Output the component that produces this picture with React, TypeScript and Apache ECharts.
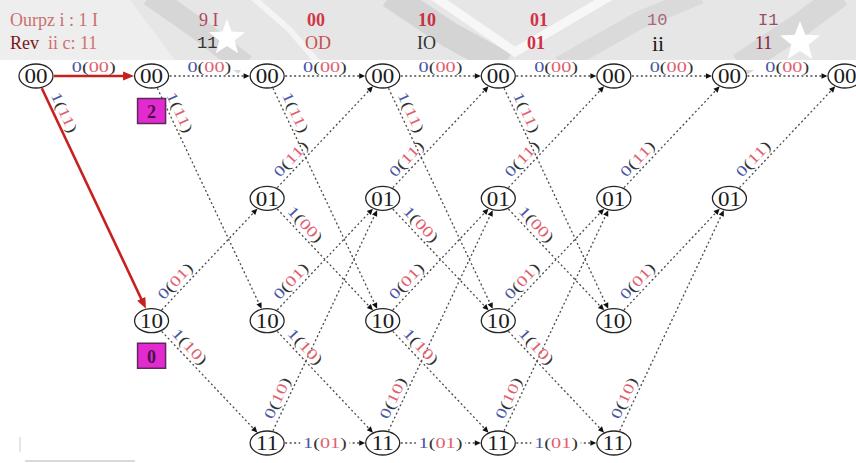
import React, { useEffect, useRef } from "react";
import * as echarts from "echarts";

// ---------------- data ----------------
const stateNames = ["00", "01", "10", "11"];

// trellis nodes: [stage, state index]
const nodes: [number, number][] = [
  [0, 0],
  [1, 0], [1, 2],
  [2, 0], [2, 1], [2, 2], [2, 3],
  [3, 0], [3, 1], [3, 2], [3, 3],
  [4, 0], [4, 1], [4, 2], [4, 3],
  [5, 0], [5, 1], [5, 2], [5, 3],
  [6, 0], [6, 1],
  [7, 0],
];

// branches: [from stage, from state, to stage, to state, input bit, output bits, on highlighted path]
const branches: [number, number, number, number, string, string, number][] = [
  [0, 0, 1, 0, "0", "00", 1],
  [0, 0, 1, 2, "1", "11", 1],
  [1, 0, 2, 0, "0", "00", 0],
  [2, 0, 3, 0, "0", "00", 0],
  [3, 0, 4, 0, "0", "00", 0],
  [4, 0, 5, 0, "0", "00", 0],
  [5, 0, 6, 0, "0", "00", 0],
  [6, 0, 7, 0, "0", "00", 0],
  [1, 0, 2, 2, "1", "11", 0],
  [2, 0, 3, 2, "1", "11", 0],
  [3, 0, 4, 2, "1", "11", 0],
  [4, 0, 5, 2, "1", "11", 0],
  [1, 2, 2, 1, "0", "01", 0],
  [2, 2, 3, 1, "0", "01", 0],
  [3, 2, 4, 1, "0", "01", 0],
  [4, 2, 5, 1, "0", "01", 0],
  [5, 2, 6, 1, "0", "01", 0],
  [1, 2, 2, 3, "1", "10", 0],
  [2, 2, 3, 3, "1", "10", 0],
  [3, 2, 4, 3, "1", "10", 0],
  [4, 2, 5, 3, "1", "10", 0],
  [2, 1, 3, 0, "0", "11", 0],
  [3, 1, 4, 0, "0", "11", 0],
  [4, 1, 5, 0, "0", "11", 0],
  [5, 1, 6, 0, "0", "11", 0],
  [6, 1, 7, 0, "0", "11", 0],
  [2, 1, 3, 2, "1", "00", 0],
  [3, 1, 4, 2, "1", "00", 0],
  [4, 1, 5, 2, "1", "00", 0],
  [2, 3, 3, 1, "0", "10", 0],
  [3, 3, 4, 1, "0", "10", 0],
  [4, 3, 5, 1, "0", "10", 0],
  [5, 3, 6, 1, "0", "10", 0],
  [2, 3, 3, 3, "1", "01", 0],
  [3, 3, 4, 3, "1", "01", 0],
  [4, 3, 5, 3, "1", "01", 0],
];

// path metric boxes: [stage, state, metric]
const metricBoxes: [number, number, string][] = [
  [1, 0, "2"],
  [1, 2, "0"],
];

const outputRow = ["Ourpz i : 1 I", "9 I", "00", "10", "01", "10", "I1"];
const receivedLead = ["Rev", "ii c: 11"];
const receivedRow = ["11", "OD", "IO", "01", "ii", "11"];

// ---------------- styling / layout ----------------
const SERIF = "'Liberation Serif', 'DejaVu Serif', serif";
const MONO = "'Liberation Mono', 'DejaVu Sans Mono', monospace";
const NODE_RX = 17;
const NODE_RY = 12;

const outputStyles = [
  { x: 10, fill: "#c87070", fontFamily: SERIF, fontSize: 18, fontWeight: "normal" },
  { x: 199, fill: "#b04858", fontFamily: SERIF, fontSize: 18, fontWeight: "normal" },
  { x: 307, fill: "#d03848", fontFamily: SERIF, fontSize: 18, fontWeight: "bold" },
  { x: 418, fill: "#c83040", fontFamily: SERIF, fontSize: 18, fontWeight: "bold" },
  { x: 530, fill: "#d03048", fontFamily: SERIF, fontSize: 18, fontWeight: "bold" },
  { x: 647, fill: "#a86878", fontFamily: MONO, fontSize: 17, fontWeight: "normal" },
  { x: 758, fill: "#985060", fontFamily: MONO, fontSize: 17, fontWeight: "normal" },
];
const receivedStyles = [
  { x: 197, fill: "#333333", fontFamily: MONO, fontSize: 17, fontWeight: "normal" },
  { x: 305, fill: "#c85050", fontFamily: SERIF, fontSize: 18, fontWeight: "normal" },
  { x: 417, fill: "#333333", fontFamily: SERIF, fontSize: 18, fontWeight: "normal" },
  { x: 527, fill: "#d03048", fontFamily: SERIF, fontSize: 18, fontWeight: "bold" },
  { x: 652, fill: "#1a1a1a", fontFamily: SERIF, fontSize: 22, fontWeight: "normal" },
  { x: 755, fill: "#8b2035", fontFamily: SERIF, fontSize: 18, fontWeight: "normal" },
];

function starPoints(cx: number, cy: number, R: number, r: number) {
  const pts: number[][] = [];
  for (let i = 0; i < 10; i++) {
    const a = -Math.PI / 2 + (i * Math.PI) / 5;
    const rad = i % 2 === 0 ? R : r;
    pts.push([cx + rad * Math.cos(a), cy + rad * Math.sin(a)]);
  }
  return pts;
}

function boundaryDist(ux: number, uy: number) {
  return 1 / Math.sqrt((ux / NODE_RX) ** 2 + (uy / NODE_RY) ** 2);
}

const labelRich = {
  b: { fill: "#4a56a6", fontSize: 15, fontFamily: SERIF },
  p: { fill: "#333333", fontSize: 15, fontFamily: SERIF },
  r: { fill: "#e06070", fontSize: 15, fontFamily: SERIF },
};

export default function App() {
  const ref = useRef<HTMLDivElement>(null);

  useEffect(() => {
    if (!ref.current) return;
    const chart = echarts.init(ref.current, undefined, { renderer: "svg" });

    const headerGraphics: any[] = [
      { type: "rect", shape: { x: 0, y: 0, width: 856, height: 60 }, style: { fill: "#e6e6e6" }, z: 0 },
      { type: "polygon", shape: { points: [[0, 0], [130, 0], [175, 60], [0, 60]] }, style: { fill: "#eeeeee" }, z: 0 },
      { type: "polyline", shape: { points: [[150, -5], [200, 30], [245, 65]] }, style: { stroke: "#d6d6d6", lineWidth: 22, fill: null }, z: 0 },
      { type: "polyline", shape: { points: [[250, -5], [290, 30], [320, 65]] }, style: { stroke: "#f4f4f4", lineWidth: 6, fill: null }, z: 0 },
      { type: "polyline", shape: { points: [[390, -5], [450, 35], [505, 65]] }, style: { stroke: "#d4d4d4", lineWidth: 26, fill: null }, z: 0 },
      { type: "polyline", shape: { points: [[432, -5], [515, 52], [612, -5]] }, style: { stroke: "#f7f7f7", lineWidth: 9, fill: null }, z: 0 },
      { type: "polyline", shape: { points: [[560, 65], [640, 20], [700, -5]] }, style: { stroke: "#dadada", lineWidth: 18, fill: null }, z: 0 },
      { type: "polyline", shape: { points: [[740, 65], [800, 25], [840, -5]] }, style: { stroke: "#d8d8d8", lineWidth: 24, fill: null }, z: 0 },
      { type: "polygon", shape: { points: starPoints(227, 38, 19, 8) }, style: { fill: "#ffffff" }, z: 0 },
      { type: "polygon", shape: { points: starPoints(800, 42, 21, 9) }, style: { fill: "#ffffff" }, z: 0 },
      { type: "rect", shape: { x: 0, y: 60, width: 856, height: 10 }, style: { fill: "#ffffff" }, z: 0 },
      { type: "line", shape: { x1: 25, y1: 461, x2: 135, y2: 461 }, style: { stroke: "#cccccc", lineWidth: 1.5 }, z: 0 },
      { type: "line", shape: { x1: 20, y1: 437, x2: 20, y2: 452 }, style: { stroke: "#dddddd", lineWidth: 1.5 }, z: 0 },
    ];

    outputRow.forEach((t, i) => {
      const s = outputStyles[i];
      headerGraphics.push({
        type: "text",
        x: s.x,
        y: 20,
        z: 2,
        style: {
          text: t,
          fill: s.fill,
          fontFamily: s.fontFamily,
          fontSize: s.fontSize,
          fontWeight: s.fontWeight,
          align: "left",
          verticalAlign: "middle",
        },
      });
    });
    headerGraphics.push({
      type: "text",
      x: 10,
      y: 43,
      z: 2,
      style: {
        text: `{a|${receivedLead[0]}}{b|  ${receivedLead[1]}}`,
        rich: {
          a: { fill: "#7a1818", fontFamily: SERIF, fontSize: 18 },
          b: { fill: "#d07070", fontFamily: SERIF, fontSize: 18 },
        },
        align: "left",
        verticalAlign: "middle",
      },
    });
    receivedRow.forEach((t, i) => {
      const s = receivedStyles[i];
      headerGraphics.push({
        type: "text",
        x: s.x,
        y: 43,
        z: 2,
        style: {
          text: t,
          fill: s.fill,
          fontFamily: s.fontFamily,
          fontSize: s.fontSize,
          fontWeight: s.fontWeight,
          align: "left",
          verticalAlign: "middle",
        },
      });
    });

    const option: any = {
      animation: false,
      backgroundColor: "#ffffff",
      grid: { left: 36, right: 11, top: 76, bottom: 20 },
      xAxis: { type: "value", min: 0, max: 7, show: false },
      yAxis: { type: "value", min: 0, max: 3, inverse: true, show: false },
      graphic: headerGraphics,
      series: [
        {
          type: "custom",
          coordinateSystem: "cartesian2d",
          clip: false,
          silent: true,
          z: 3,
          data: branches.map((b) => [b[0], b[1], b[2], b[3]]),
          encode: { x: [0, 2], y: [1, 3] },
          renderItem: (params: any, api: any) => {
            const b = branches[params.dataIndex];
            const p0 = api.coord([b[0], b[1]]);
            const p1 = api.coord([b[2], b[3]]);
            const dx = p1[0] - p0[0];
            const dy = p1[1] - p0[1];
            const len = Math.hypot(dx, dy);
            const ux = dx / len;
            const uy = dy / len;
            const d = boundaryDist(ux, uy);
            const hl = b[6] === 1;
            const color = hl ? "#c8201e" : "#4a4a4a";
            const sx = p0[0] + ux * (d + 1);
            const sy = p0[1] + uy * (d + 1);
            const tx = p1[0] - ux * (d + 0.5);
            const ty = p1[1] - uy * (d + 0.5);
            const ah = hl ? 11 : 6;
            const aw = hl ? 4.5 : 2.8;
            const bx = tx - ux * ah;
            const by = ty - uy * ah;
            const nx = -uy;
            const ny = ux;

            const horizontal = Math.abs(dy) < 1;
            const inline = horizontal && b[1] === 3;
            let lx: number;
            let ly: number;
            let off: number;
            if (horizontal) {
              lx = (p0[0] + p1[0]) / 2;
              ly = p0[1];
              off = inline ? 0 : 9;
            } else {
              lx = p0[0] + ux * 45;
              ly = p0[1] + uy * 45;
              off = 10;
            }
            let vx = ux;
            let vy = uy;
            if (vx < 0) {
              vx = -vx;
              vy = -vy;
            }
            lx += vy * off;
            ly += -vx * off;
            const rot = -Math.atan2(vy, vx);

            return {
              type: "group",
              children: [
                {
                  type: "line",
                  shape: { x1: sx, y1: sy, x2: bx + ux * 2, y2: by + uy * 2 },
                  style: {
                    stroke: color,
                    lineWidth: hl ? 2.6 : 1.3,
                    lineDash: hl ? null : [2, 2.5],
                  },
                },
                {
                  type: "polygon",
                  shape: {
                    points: [
                      [tx, ty],
                      [bx + nx * aw, by + ny * aw],
                      [bx - nx * aw, by - ny * aw],
                    ],
                  },
                  style: { fill: hl ? "#c8201e" : "#111111" },
                },
                {
                  type: "text",
                  x: lx,
                  y: ly,
                  rotation: rot,
                  scaleX: 1.35,
                  z2: 5,
                  style: {
                    text: `{b|${b[4]}}{p|(}{r|${b[5]}}{p|)}`,
                    rich: labelRich,
                    fontSize: 15,
                    fontFamily: SERIF,
                    align: "center",
                    verticalAlign: "middle",
                    backgroundColor: inline ? "#ffffff" : "transparent",
                    padding: inline ? [0, 2] : 0,
                  },
                },
              ],
            };
          },
        },
        {
          type: "custom",
          coordinateSystem: "cartesian2d",
          clip: false,
          silent: true,
          z: 5,
          data: nodes.map((n) => [n[0], n[1]]),
          encode: { x: 0, y: 1 },
          renderItem: (params: any, api: any) => {
            const n = nodes[params.dataIndex];
            const p = api.coord([n[0], n[1]]);
            return {
              type: "group",
              children: [
                {
                  type: "ellipse",
                  shape: { cx: p[0], cy: p[1], rx: NODE_RX, ry: NODE_RY },
                  style: { fill: "#ffffff", stroke: "#262626", lineWidth: 1.3 },
                },
                {
                  type: "text",
                  x: p[0],
                  y: p[1] + 1,
                  scaleX: 1.15,
                  style: {
                    text: stateNames[n[1]],
                    fill: "#1a1a1a",
                    fontSize: 20,
                    fontFamily: SERIF,
                    align: "center",
                    verticalAlign: "middle",
                  },
                },
              ],
            };
          },
        },
        {
          type: "custom",
          coordinateSystem: "cartesian2d",
          clip: false,
          silent: true,
          z: 6,
          data: metricBoxes.map((m) => [m[0], m[1]]),
          encode: { x: 0, y: 1 },
          renderItem: (params: any, api: any) => {
            const m = metricBoxes[params.dataIndex];
            const p = api.coord([m[0], m[1]]);
            const cy = p[1] + 35;
            return {
              type: "group",
              children: [
                {
                  type: "rect",
                  shape: { x: p[0] - 14, y: cy - 12.5, width: 28, height: 25 },
                  style: { fill: "#e22ad0", stroke: "#5a2a58", lineWidth: 1.5 },
                },
                {
                  type: "text",
                  x: p[0],
                  y: cy + 1,
                  style: {
                    text: m[2],
                    fill: "#4a1248",
                    fontSize: 18,
                    fontWeight: "bold",
                    fontFamily: SERIF,
                    align: "center",
                    verticalAlign: "middle",
                  },
                },
              ],
            };
          },
        },
      ],
    };

    chart.setOption(option);
    return () => {
      chart.dispose();
    };
  }, []);

  return (
    <div
      ref={ref}
      style={{ position: "fixed", left: 0, top: 0, width: 856, height: 463, background: "#fff" }}
    />
  );
}
